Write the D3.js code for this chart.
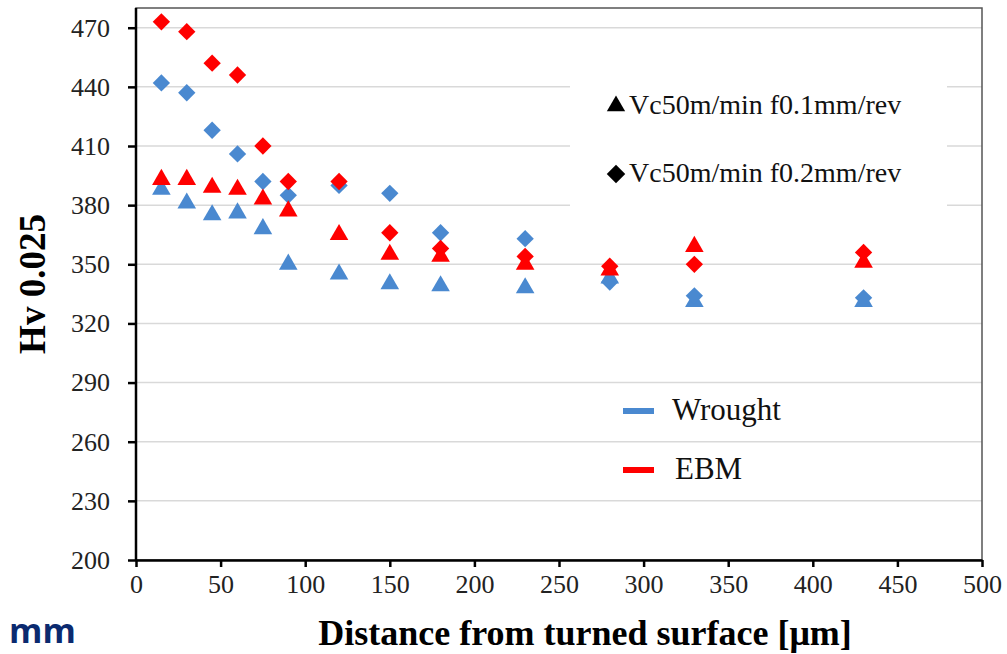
<!DOCTYPE html>
<html>
<head>
<meta charset="utf-8">
<script src="https://cdn.jsdelivr.net/npm/d3@7"></script>
<style>
  body { margin: 0; background: #fff; }
  .serif { font-family: "Liberation Serif", "Times New Roman", Tinos, serif; }
  .axis text { font-family: "Liberation Serif", "Times New Roman", Tinos, serif; font-size: 26px; fill: #222; }
  .axis path, .axis line { stroke: #000; stroke-width: 2.5px; }
</style>
</head>
<body>
<svg id="chart"></svg>
<script>
// distance from turned surface [um]
const distances = [15, 30, 45, 60, 75, 90, 120, 150, 180, 230, 280, 330, 430];
// Hv 0.025 readings
const wroughtF01 = [388, 381, 375, 376, 368, 350, 345, 340, 339, 338, 343, 331, 331];
const wroughtF02 = [442, 437, 418, 406, 392, 385, 390, 386, 366, 363, 341, 334, 333];
const ebmF01 = [393, 393, 389, 388, 383, 377, 365, 355, 354, 350, 347, 359, 351];
const ebmF02 = [473, 468, 452, 446, 410, 392, 392, 366, 358, 354, 349, 350, 356];
const yTicks = [200, 230, 260, 290, 320, 350, 380, 410, 440, 470];
const xTicks = [0, 50, 100, 150, 200, 250, 300, 350, 400, 450, 500];

const materials = ["Wrought", "EBM"];
const conditions = ["Vc50m/min f0.1mm/rev", "Vc50m/min f0.2mm/rev"];
const colors = {Wrought: "#4a89d0", EBM: "#ff0000"};

const W = 1007, H = 654;
const margin = {top: 8, right: 25, bottom: 94, left: 136};
const width = W - margin.left - margin.right;
const height = H - margin.top - margin.bottom;

const svg = d3.select("#chart").attr("width", W).attr("height", H);
const chart = svg.append("g").attr("transform", `translate(${margin.left},${margin.top})`);

const xScale = d3.scaleLinear().domain([0, 500]).range([0, width]);
const yScale = d3.scaleLinear().domain([200, 480]).range([height, 0]);

// gridlines
chart.append("g")
    .selectAll("line")
    .data(yTicks.slice(1))
    .join("line")
    .attr("x1", 0).attr("x2", width)
    .attr("y1", d => yScale(d)).attr("y2", d => yScale(d))
    .attr("stroke", "#d9d9d9").attr("stroke-width", 1.5);

// plot border (top / right)
chart.append("rect")
    .attr("x", 0).attr("y", 0).attr("width", width).attr("height", height)
    .attr("fill", "none").attr("stroke", "#555").attr("stroke-width", 1.5);

// white box behind the marker legend hides the gridlines
chart.append("rect")
    .attr("x", 570 - margin.left).attr("y", 45 - margin.top)
    .attr("width", 377).attr("height", 180)
    .attr("fill", "#fff");

// series, drawn wrought first so EBM sits on top
const series = [
    {material: "Wrought", shape: "tri", values: wroughtF01},
    {material: "Wrought", shape: "dia", values: wroughtF02},
    {material: "EBM", shape: "tri", values: ebmF01},
    {material: "EBM", shape: "dia", values: ebmF02}
];
const triPath = d3.symbol(d3.symbolTriangle, 150)();
const diaPath = d3.symbol(d3.symbolSquare, 150)();

series.forEach(s => {
    chart.append("g")
        .selectAll("path")
        .data(s.values.map((v, i) => ({x: distances[i], y: v})))
        .join("path")
        .attr("d", s.shape === "tri" ? triPath : diaPath)
        .attr("transform", d => `translate(${xScale(d.x)},${yScale(d.y)})` + (s.shape === "dia" ? " rotate(45)" : ""))
        .attr("fill", colors[s.material]);
});

// axes
const xAxis = d3.axisBottom(xScale).tickValues(xTicks).tickSize(7).tickSizeOuter(0).tickPadding(8);
const yAxis = d3.axisLeft(yScale).tickValues(yTicks).tickSize(8).tickSizeOuter(0).tickPadding(18);

chart.append("g").attr("class", "axis x-axis")
    .attr("transform", `translate(0,${height})`)
    .call(xAxis);
chart.append("g").attr("class", "axis y-axis")
    .call(yAxis);
chart.select(".y-axis .domain").attr("d", `M0,${height}V0`);
chart.selectAll(".axis").attr("font-family", null).attr("font-size", null);

// marker legend
const markerLegend = svg.append("g");
conditions.forEach((c, i) => {
    const y = 106 + i * 68;
    markerLegend.append("path")
        .attr("d", i === 0 ? d3.symbol(d3.symbolTriangle, 145)() : d3.symbol(d3.symbolSquare, 170)())
        .attr("transform", `translate(616,${y})` + (i === 1 ? " rotate(45)" : ""))
        .attr("fill", "#000");
    markerLegend.append("text")
        .attr("class", "serif")
        .attr("x", 629).attr("y", y + 8)
        .style("font-size", "28px")
        .attr("fill", "#111")
        .text(c);
});

// colour legend
const colorLegend = svg.append("g");
materials.forEach((m, i) => {
    const y = 411 + i * 59;
    colorLegend.append("rect")
        .attr("x", 623).attr("y", y - 3).attr("width", 31).attr("height", 6)
        .attr("fill", colors[m]);
    colorLegend.append("text")
        .attr("class", "serif")
        .attr("x", i === 0 ? 672 : 675).attr("y", y + 9)
        .style("font-size", "31px")
        .attr("fill", "#111")
        .text(m);
});

// axis titles
svg.append("text")
    .attr("class", "serif")
    .attr("transform", "rotate(-90)")
    .attr("x", -284).attr("y", 45)
    .attr("text-anchor", "middle")
    .style("font-size", "37px")
    .style("font-weight", "bold")
    .text("Hv 0.025");

svg.append("text")
    .attr("class", "serif")
    .attr("x", 585).attr("y", 645)
    .attr("text-anchor", "middle")
    .style("font-size", "36px")
    .style("font-weight", "bold")
    .text("Distance from turned surface [\u03bcm]");

svg.append("text")
    .attr("x", 9).attr("y", 643)
    .style("font-family", "'Open Sans', sans-serif")
    .style("font-size", "34px")
    .style("font-weight", "bold")
    .attr("fill", "#0b2a6f")
    .text("mm");
</script>
</body>
</html>
